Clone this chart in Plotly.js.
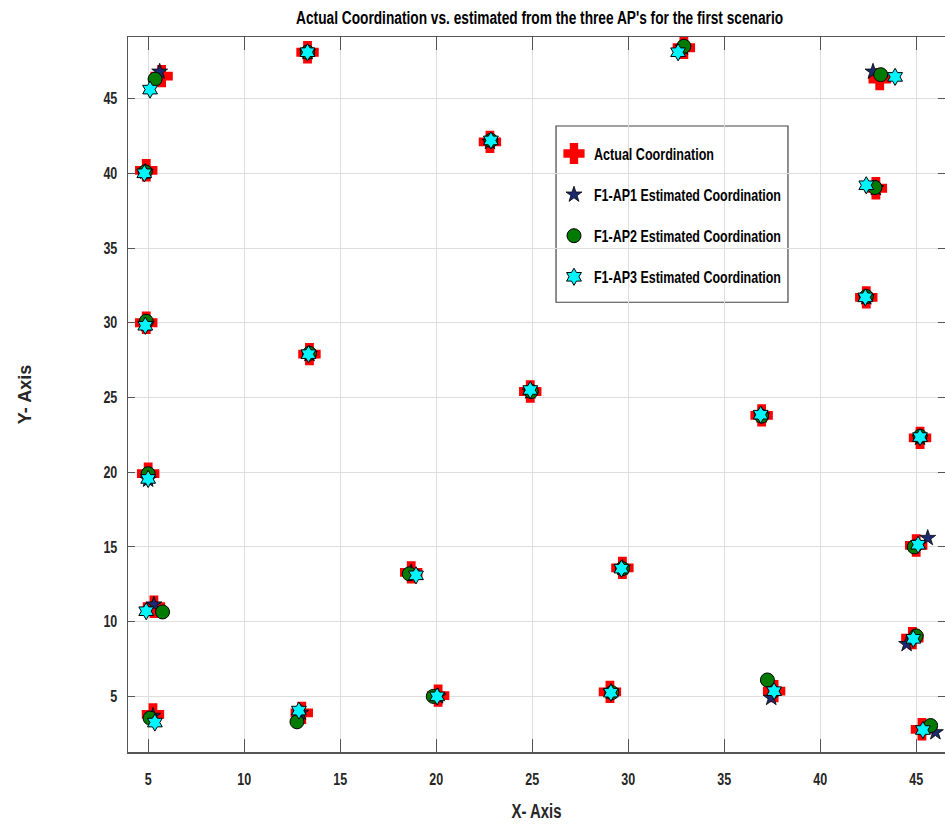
<!DOCTYPE html>
<html>
<head>
<meta charset="utf-8">
<script src="https://cdn.plot.ly/plotly-3.0.1.min.js"></script>
<style>html,body{margin:0;padding:0;background:#fff;}#chart{width:945px;height:827px;}</style>
</head>
<body>
<div id="chart"></div>
<script>
// ---- Data ----
var seriesNames = ["Actual Coordination", "F1-AP1 Estimated Coordination", "F1-AP2 Estimated Coordination", "F1-AP3 Estimated Coordination"];

var actualX = [5.7, 4.9, 13.3, 22.8, 32.9, 43.1, 42.9, 42.4, 4.9, 13.4, 24.9, 36.95, 45.2, 5.0, 45.0, 18.7, 29.7, 5.3, 44.8, 5.25, 13.0, 20.1, 29.05, 37.6, 45.3];
var actualY = [46.5, 40.2, 48.1, 42.1, 48.4, 46.3, 39.0, 31.7, 30.0, 27.9, 25.4, 23.8, 22.3, 19.9, 15.1, 13.3, 13.6, 11.0, 8.9, 3.8, 3.9, 5.05, 5.3, 5.35, 2.8];

var ap1X = [5.6, 4.85, 13.3, 22.8, 32.85, 42.75, 42.9, 42.4, 4.9, 13.4, 24.9, 36.95, 45.2, 5.0, 45.6, 18.7, 29.7, 5.3, 44.5, 5.25, 12.95, 20.1, 29.1, 37.45, 46.0];
var ap1Y = [46.8, 40.1, 48.1, 42.1, 48.4, 46.8, 39.0, 31.7, 29.9, 27.9, 25.4, 23.8, 22.3, 19.5, 15.6, 13.3, 13.6, 11.15, 8.5, 3.7, 3.9, 5.0, 5.3, 4.9, 2.6];

var ap2X = [5.36, 4.85, 13.3, 22.85, 32.9, 43.15, 42.85, 42.4, 4.9, 13.4, 24.95, 36.95, 45.2, 5.0, 44.9, 18.6, 29.7, 5.75, 45.0, 5.1, 12.75, 19.85, 29.15, 37.25, 45.75];
var ap2Y = [46.3, 40.1, 48.1, 42.2, 48.5, 46.6, 39.05, 31.75, 30.1, 27.95, 25.4, 23.75, 22.4, 19.9, 15.0, 13.2, 13.55, 10.65, 9.05, 3.55, 3.3, 5.0, 5.25, 6.1, 3.05];

var ap3X = [5.1, 4.8, 13.3, 22.85, 32.6, 43.9, 42.4, 42.35, 4.85, 13.35, 24.9, 36.9, 45.2, 5.0, 45.1, 18.95, 29.65, 4.9, 44.85, 5.35, 12.85, 20.05, 29.1, 37.6, 45.35];
var ap3Y = [45.6, 40.0, 48.1, 42.2, 48.1, 46.45, 39.2, 31.7, 29.8, 27.9, 25.5, 23.85, 22.35, 19.55, 15.15, 13.1, 13.55, 10.7, 8.85, 3.25, 4.05, 5.0, 5.25, 5.35, 2.75];

var xTicks = [5, 10, 15, 20, 25, 30, 35, 40, 45];
var yTicks = [5, 10, 15, 20, 25, 30, 35, 40, 45];

// ---- Styling ----
var FONT = "'Liberation Sans', Arial, sans-serif";
var txt = '#262626';

function tr(x, y, name, group, marker) {
  return {type: 'scatter', mode: 'markers', x: x, y: y, name: name,
          legendgroup: group, marker: marker, hoverinfo: 'x+y'};
}

var data = [
  tr(actualX, actualY, seriesNames[0], 'g0', {symbol: 'cross', size: 17, color: '#ff0000', line: {color: '#ff0000', width: 2}}),
  tr(ap1X, ap1Y, seriesNames[1], 'g1', {symbol: 'star', size: 12, color: '#1c2a6e', line: {color: '#000000', width: 0.8}}),
  tr(ap2X, ap2Y, seriesNames[2], 'g2', {symbol: 'circle', size: 14, color: '#007a00', line: {color: '#000000', width: 1}}),
  tr(ap3X, ap3Y, seriesNames[3], 'g3', {symbol: 'hexagram', size: 13, color: '#00f5ff', line: {color: '#000000', width: 1}})
];

var axisCommon = {
  showgrid: true, gridcolor: '#dedede', gridwidth: 1,
  showline: true, linecolor: '#555555', linewidth: 1.5,
  mirror: 'ticks', ticks: 'inside', tickcolor: '#555555', tickwidth: 1,
  zeroline: false, tickmode: 'array',
  tickfont: {family: FONT, size: 16, color: txt, weight: 'bold'}
};

var layout = {
  width: 945, height: 827,
  paper_bgcolor: '#ffffff', plot_bgcolor: '#ffffff',
  margin: {l: 128, r: 0, t: 37, b: 75, pad: 0},
  title: {text: "Actual Coordination vs. estimated from the three AP's for the first scenario",
          font: {family: FONT, size: 18, color: '#000000', weight: 'bold'},
          x: 0.571, xanchor: 'center', y: 0.979, yanchor: 'middle'},
  xaxis: Object.assign({}, axisCommon, {
    range: [3.95, 46.5], tickvals: xTicks, ticktext: xTicks.map(String), ticklen: 13,
    ticklabelstandoff: 12,
    title: {text: 'X- Axis', font: {family: FONT, size: 20, color: txt, weight: 'bold'}, standoff: 17}
  }),
  yaxis: Object.assign({}, axisCommon, {
    range: [1.28, 49.12], tickvals: yTicks, ticktext: yTicks.map(String), ticklen: 7,
    ticklabelstandoff: 6,
    title: {text: 'Y- Axis', font: {family: FONT, size: 18, color: txt, weight: 'bold'}, standoff: 63}
  }),
  showlegend: true,
  legend: {
    x: 0.5214, xanchor: 'left', y: 0.8616, yanchor: 'top',
    bgcolor: 'rgba(0,0,0,0)', borderwidth: 0,
    traceorder: 'grouped', tracegroupgap: 16,
    font: {family: FONT, size: 17, color: '#000000', weight: 'bold'}
  },
  shapes: [{type: 'rect', xref: 'paper', yref: 'paper', x0: 0.5239, x1: 0.8078, y0: 0.629, y1: 0.8755,
            fillcolor: '#ffffff', line: {color: '#444444', width: 1.2}, layer: 'between'}]
};

// The reference uses a tall, horizontally condensed bold face; narrow each horizontal text run.
function condense(selector, widthFn) {
  document.querySelectorAll(selector).forEach(function (el) {
    var w = el.getComputedTextLength();
    if (!w) return;
    el.setAttribute('lengthAdjust', 'spacingAndGlyphs');
    el.setAttribute('textLength', widthFn(el, w));
  });
}

Plotly.newPlot('chart', data, layout, {displayModeBar: false, staticPlot: true}).then(function () {
  condense('text.gtitle', function () { return 487; });
  condense('text.legendtext', function (el, w) { return el.textContent.length > 20 ? 187 : 120; });
  condense('g.xtick > text, g.ytick > text', function (el, w) { return w * 0.78; });
  condense('text.xtitle', function (el, w) { return 50; });
});
</script>
</body>
</html>
